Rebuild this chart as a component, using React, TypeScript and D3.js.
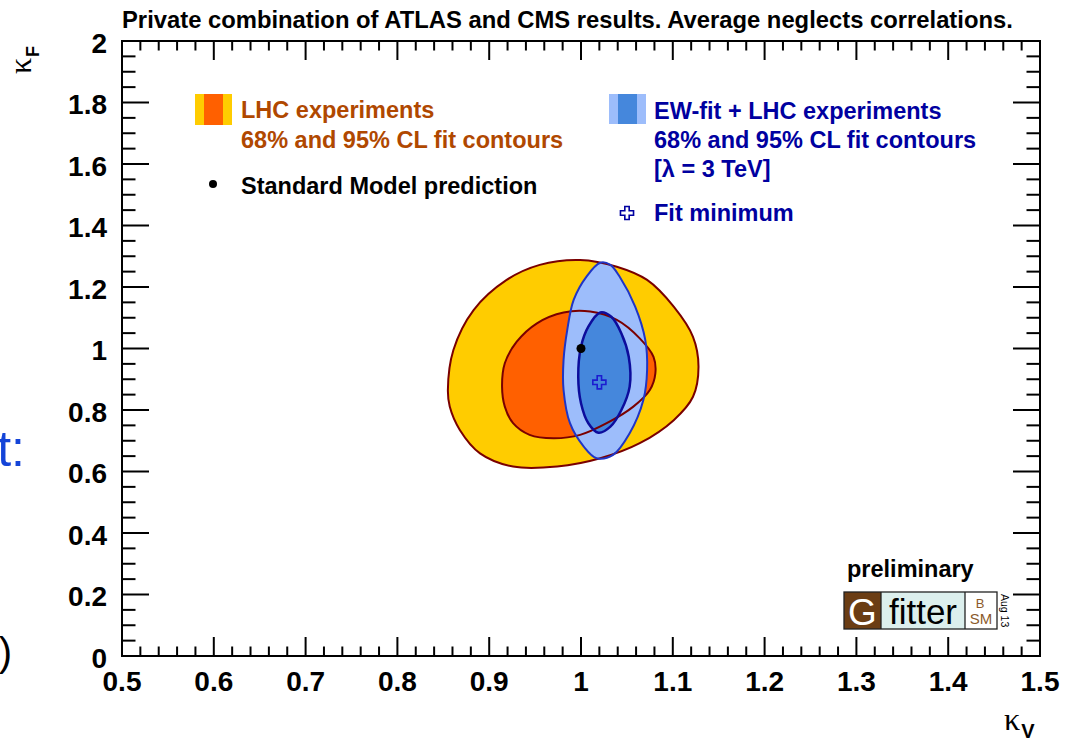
import React, { useRef, useEffect } from "react";
import * as d3 from "d3";

// contour points, [kappaV, kappaF]
const lhc95: [number, number][] = [
  [0.855, 0.865], [0.861, 0.995], [0.883, 1.125], [0.919, 1.223], [0.955, 1.272],
  [0.999, 1.288], [1.039, 1.266], [1.072, 1.223], [1.101, 1.136], [1.122, 1.038],
  [1.128, 0.941], [1.122, 0.843], [1.101, 0.767], [1.064, 0.692], [1.021, 0.643],
  [0.974, 0.616], [0.926, 0.616], [0.89, 0.659], [0.868, 0.735], [0.857, 0.811],
];
const lhc68: [number, number][] = [
  [0.914, 0.876], [0.917, 0.952], [0.93, 1.022], [0.952, 1.082], [0.981, 1.117],
  [1.01, 1.12], [1.039, 1.093], [1.064, 1.033], [1.079, 0.973], [1.081, 0.919],
  [1.075, 0.865], [1.057, 0.811], [1.028, 0.757], [0.999, 0.719], [0.97, 0.708],
  [0.944, 0.719], [0.926, 0.757], [0.917, 0.811],
];
const ew95: [number, number][] = [
  [1.021, 1.279], [1.006, 1.234], [0.992, 1.158], [0.985, 1.06], [0.981, 0.963],
  [0.981, 0.865], [0.988, 0.757], [1.003, 0.681], [1.017, 0.643], [1.035, 0.654],
  [1.053, 0.724], [1.068, 0.833], [1.072, 0.93], [1.07, 1.028], [1.059, 1.136],
  [1.042, 1.234], [1.032, 1.272],
];
const ew68: [number, number][] = [
  [1.021, 1.117], [1.008, 1.071], [1.0, 1.006], [0.997, 0.908], [1.0, 0.822],
  [1.008, 0.757], [1.019, 0.726], [1.032, 0.746], [1.044, 0.8], [1.053, 0.876],
  [1.052, 0.973], [1.044, 1.049], [1.033, 1.103],
];
const smPoint: [number, number] = [1.0, 1.0];
const fitMinimum: [number, number] = [1.02, 0.89];

const xDomain = [0.5, 1.5];
const yDomain = [0, 2];

const title = "Private combination of ATLAS and CMS results. Average neglects correlations.";
const lhcLegend = ["LHC experiments", "68% and 95% CL fit contours"];
const smLegend = "Standard Model prediction";
const ewLegend = ["EW-fit + LHC experiments", "68% and 95% CL fit contours", "[λ = 3 TeV]"];
const fitLegend = "Fit minimum";

const W = 1065;
const H = 740;
const SANS = "'Liberation Sans', Arial, Helvetica, sans-serif";
const SERIF = "'Liberation Serif', 'DejaVu Serif', serif";

const App: React.FC = () => {
  const ref = useRef<SVGSVGElement | null>(null);

  useEffect(() => {
    const svg = d3.select(ref.current);
    svg.selectAll("*").remove();

    const left = 122, right = 1040, top = 41, bottom = 656;
    const x = d3.scaleLinear().domain(xDomain).range([left, right]);
    const y = d3.scaleLinear().domain(yDomain).range([bottom, top]);

    const line = d3
      .line<[number, number]>()
      .x((d) => x(d[0]))
      .y((d) => y(d[1]))
      .curve(d3.curveCatmullRomClosed.alpha(0.5));

    // title
    svg.append("text")
      .attr("x", left).attr("y", 28)
      .attr("font-family", SANS).attr("font-weight", "bold").attr("font-size", 23.8)
      .text(title);

    // fills
    const g = svg.append("g");
    g.append("path").attr("d", line(lhc95)).attr("fill", "#ffcc00");
    g.append("path").attr("d", line(lhc68)).attr("fill", "#ff6000");
    g.append("path").attr("d", line(ew95)).attr("fill", "#9dbdfb");
    g.append("path").attr("d", line(ew68)).attr("fill", "#4587dc");

    // outlines on top
    g.append("path").attr("d", line(lhc95)).attr("fill", "none").attr("stroke", "#7a0000").attr("stroke-width", 2);
    g.append("path").attr("d", line(lhc68)).attr("fill", "none").attr("stroke", "#7a0000").attr("stroke-width", 2);
    g.append("path").attr("d", line(ew95)).attr("fill", "none").attr("stroke", "#1f35c6").attr("stroke-width", 2);
    g.append("path").attr("d", line(ew68)).attr("fill", "none").attr("stroke", "#0c0c9c").attr("stroke-width", 2.5);

    // SM point and fit minimum
    g.append("circle").attr("cx", x(smPoint[0])).attr("cy", y(smPoint[1])).attr("r", 4.5).attr("fill", "#000");
    const cross = d3.symbol().type(d3.symbolCross).size(95);
    g.append("path")
      .attr("d", cross()!)
      .attr("transform", `translate(${x(fitMinimum[0])},${y(fitMinimum[1])})`)
      .attr("fill", "none").attr("stroke", "#1b1bd0").attr("stroke-width", 1.6);

    // axes: frame + ROOT-style ticks on all sides
    const ax = svg.append("g").attr("stroke", "#000").attr("stroke-width", 2);
    const xMinor = x.ticks(50);
    const xMajor = x.ticks(10);
    const yMinor = y.ticks(40);
    const yMajor = y.ticks(10);
    const isMajor = (arr: number[], v: number) => arr.some((m) => Math.abs(m - v) < 1e-9);

    xMinor.forEach((v) => {
      const len = isMajor(xMajor, v) ? 19 : 9.5;
      ax.append("line").attr("x1", x(v)).attr("x2", x(v)).attr("y1", bottom).attr("y2", bottom - len);
      ax.append("line").attr("x1", x(v)).attr("x2", x(v)).attr("y1", top).attr("y2", top + len);
    });
    yMinor.forEach((v) => {
      const len = isMajor(yMajor, v) ? 27 : 13.5;
      ax.append("line").attr("y1", y(v)).attr("y2", y(v)).attr("x1", left).attr("x2", left + len);
      ax.append("line").attr("y1", y(v)).attr("y2", y(v)).attr("x1", right).attr("x2", right - len);
    });
    ax.append("rect")
      .attr("x", left).attr("y", top).attr("width", right - left).attr("height", bottom - top)
      .attr("fill", "none");

    const fmt = (v: number) => String(+v.toFixed(2));
    svg.append("g").selectAll("text").data(xMajor).enter().append("text")
      .attr("x", (d) => x(d)).attr("y", 691)
      .attr("text-anchor", "middle")
      .attr("font-family", SANS).attr("font-weight", "bold").attr("font-size", 28)
      .text(fmt);
    svg.append("g").selectAll("text").data(yMajor).enter().append("text")
      .attr("x", 107).attr("y", (d) => y(d) + 11.5)
      .attr("text-anchor", "end")
      .attr("font-family", SANS).attr("font-weight", "bold").attr("font-size", 28)
      .text(fmt);

    // axis titles
    const yt = svg.append("text").attr("transform", "translate(31,74) rotate(-90)");
    yt.append("tspan").attr("font-family", SERIF).attr("font-size", 32).text("κ");
    yt.append("tspan").attr("font-family", SANS).attr("font-weight", "bold").attr("font-size", 18).attr("dy", 8).attr("dx", 1).text("F");
    const xt = svg.append("text").attr("x", 1004).attr("y", 730);
    xt.append("tspan").attr("font-family", SERIF).attr("font-size", 32).text("κ");
    xt.append("tspan").attr("font-family", SANS).attr("font-weight", "bold").attr("font-size", 20).attr("dy", 8).attr("dx", 1).text("V");

    // legend left
    const lg = svg.append("g").attr("font-family", SANS).attr("font-weight", "bold").attr("font-size", 23.5);
    lg.append("rect").attr("x", 195).attr("y", 94).attr("width", 37).attr("height", 31).attr("fill", "#ffcc00");
    lg.append("rect").attr("x", 204).attr("y", 94).attr("width", 19).attr("height", 31).attr("fill", "#ff6000");
    lhcLegend.forEach((t, i) => {
      lg.append("text").attr("x", 241).attr("y", 118 + i * 30).attr("fill", "#b04800").text(t);
    });
    lg.append("circle").attr("cx", 213).attr("cy", 184).attr("r", 4).attr("fill", "#000");
    lg.append("text").attr("x", 241).attr("y", 194).attr("fill", "#000").text(smLegend);

    // legend right
    lg.append("rect").attr("x", 609).attr("y", 94).attr("width", 37).attr("height", 30).attr("fill", "#9dbdfb");
    lg.append("rect").attr("x", 618).attr("y", 94).attr("width", 19).attr("height", 30).attr("fill", "#4587dc");
    ewLegend.forEach((t, i) => {
      lg.append("text").attr("x", 654).attr("y", 119 + i * 29).attr("fill", "#0000a0").text(t);
    });
    lg.append("path")
      .attr("d", cross()!)
      .attr("transform", "translate(627,213)")
      .attr("fill", "#fff").attr("stroke", "#0000a0").attr("stroke-width", 1.6);
    lg.append("text").attr("x", 654).attr("y", 221).attr("fill", "#0000a0").text(fitLegend);

    // Gfitter logo
    svg.append("text")
      .attr("x", 847).attr("y", 577)
      .attr("font-family", SANS).attr("font-weight", "bold").attr("font-size", 23.5)
      .text("preliminary");
    const logo = svg.append("g").attr("font-family", SANS);
    logo.append("rect").attr("x", 844).attr("y", 592).attr("width", 37).attr("height", 37).attr("fill", "#6b3d14");
    logo.append("rect").attr("x", 881).attr("y", 592).attr("width", 84).attr("height", 37).attr("fill", "#dcefed");
    logo.append("rect").attr("x", 965).attr("y", 592).attr("width", 32).attr("height", 37).attr("fill", "#fff");
    logo.append("rect").attr("x", 844).attr("y", 592).attr("width", 153).attr("height", 37)
      .attr("fill", "none").attr("stroke", "#222").attr("stroke-width", 1.3);
    logo.append("line").attr("x1", 881).attr("x2", 881).attr("y1", 592).attr("y2", 629).attr("stroke", "#222").attr("stroke-width", 1.3);
    logo.append("line").attr("x1", 965).attr("x2", 965).attr("y1", 592).attr("y2", 629).attr("stroke", "#222").attr("stroke-width", 1.3);
    logo.append("text").attr("x", 862.5).attr("y", 625).attr("text-anchor", "middle").attr("font-size", 37).attr("fill", "#fff").text("G");
    logo.append("text").attr("x", 923).attr("y", 624).attr("text-anchor", "middle").attr("font-size", 35).attr("fill", "#000").text("fitter");
    logo.append("text").attr("x", 980).attr("y", 608).attr("text-anchor", "middle").attr("font-size", 13).attr("fill", "#8b5a2b").text("B");
    logo.append("text").attr("x", 981).attr("y", 624).attr("text-anchor", "middle").attr("font-size", 15).attr("fill", "#8b5a2b").text("SM");
    logo.append("text").attr("transform", "translate(1001,594) rotate(90)").attr("font-size", 10.5).attr("fill", "#000").text("Aug 13");

    // bits of slide text around the figure
    svg.append("text").attr("x", 25).attr("y", 466).attr("text-anchor", "end")
      .attr("font-family", SANS).attr("font-size", 50).attr("fill", "#1444d8").text("t:");
    svg.append("text").attr("x", 12).attr("y", 666).attr("text-anchor", "end")
      .attr("font-family", SANS).attr("font-size", 40).attr("fill", "#000").text(")");
  }, []);

  return (
    <svg
      ref={ref}
      width={W}
      height={H}
      viewBox={`0 0 ${W} ${H}`}
      style={{ position: "absolute", left: 0, top: 0, background: "#fff" }}
    />
  );
};

export default App;
